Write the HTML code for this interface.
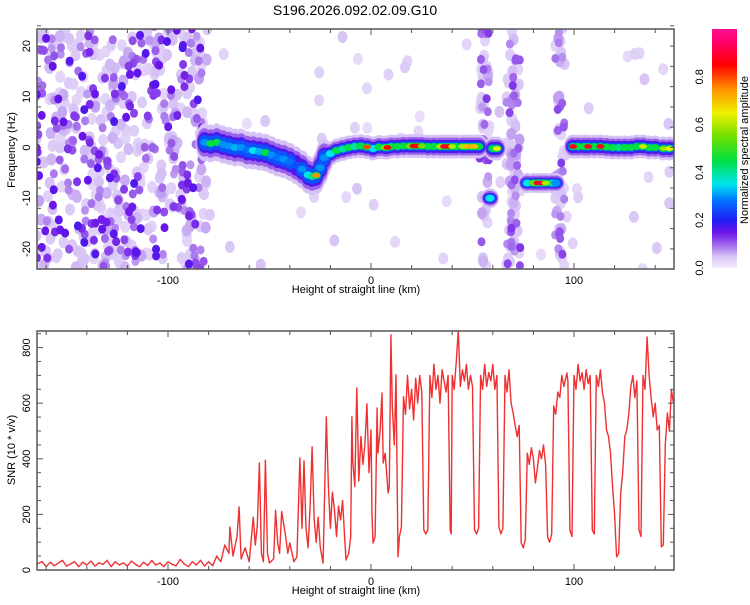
<!DOCTYPE html>
<html><head><meta charset="utf-8">
<style>
html,body{margin:0;padding:0;background:#fff;}
body{width:750px;height:600px;overflow:hidden;font-family:"Liberation Sans",sans-serif;}
svg text{font-family:"Liberation Sans",sans-serif;fill:#000;}
</style></head>
<body>
<svg id="chart" width="750" height="600" xmlns="http://www.w3.org/2000/svg">
  <text x="355" y="15" font-size="14" text-anchor="middle">S196.2026.092.02.09.G10</text>
  <defs>
    <clipPath id="clipTop"><rect x="37" y="29" width="637" height="240"/></clipPath>
    <clipPath id="clipBot"><rect x="37" y="331" width="637" height="239"/></clipPath>
    <linearGradient id="cbar" x1="0" y1="1" x2="0" y2="0">
      <stop offset="0" stop-color="#f6f0fd"/>
      <stop offset="0.05" stop-color="#d6c2f5"/>
      <stop offset="0.1" stop-color="#9c62ea"/>
      <stop offset="0.15" stop-color="#6a14e8"/>
      <stop offset="0.2" stop-color="#2020f4"/>
      <stop offset="0.28" stop-color="#0070ff"/>
      <stop offset="0.35" stop-color="#00e4ee"/>
      <stop offset="0.45" stop-color="#00e040"/>
      <stop offset="0.55" stop-color="#70e000"/>
      <stop offset="0.65" stop-color="#f0f000"/>
      <stop offset="0.75" stop-color="#ff9000"/>
      <stop offset="0.85" stop-color="#ff0000"/>
      <stop offset="0.95" stop-color="#ff0070"/>
      <stop offset="1" stop-color="#ff1090"/>
    </linearGradient>
  </defs>
  <g id="heat" clip-path="url(#clipTop)"></g>
  <g id="snr" clip-path="url(#clipBot)"></g>
  <g id="axes"></g>
  <rect x="712" y="29" width="25" height="239" fill="url(#cbar)"/>
  <text transform="translate(748,150) rotate(-90)" font-size="11" text-anchor="middle">Normalized spectral amplitude</text>
</svg>
<script>
// ---------- data ----------
const ridgeKm  = [-82,-79,-76,-73,-70,-67,-64,-61,-58,-55,-52,-49,-46,-43,-40,-37,-34,-31,-29,-27,-25,-23,-20,-17,-14,-11,-8,-5,-2,1,4,7,8,10,13,16,19,21,23,25,28,31,34,36,38,40,42,45,47,49,51,53,60,62,99.5,102,105,107,110,113,116,119,122,125,128,131,134,137,140,144,147];
const ridgeHz  = [1,0.8,1,0.6,0.3,0,0,-0.5,-0.6,-0.8,-1,-1.5,-2,-2.3,-2.8,-3.5,-4.3,-5.4,-5.7,-5.5,-4,-2,-1.2,-0.6,-0.3,0,0.2,0.3,0.1,-0.2,0.1,0,0,0.2,0.2,0.3,0.3,0.3,0.3,0.3,0.2,0.2,0.2,0.2,0.2,0.2,0.2,0.2,0.2,0.2,0.2,0.2,-0.2,-0.2,0.2,0.2,0.2,0.2,0.2,0.2,0.1,0,0,0,0,0.2,0.2,0,0,-0.2,-0.2];
const ridgeAmp = [0.3,0.45,0.45,0.3,0.3,0.32,0.3,0.28,0.35,0.32,0.45,0.3,0.28,0.3,0.28,0.25,0.3,0.35,0.4,0.75,0.3,0.3,0.35,0.5,0.4,0.45,0.4,0.45,0.8,0.35,0.45,0.6,0.85,0.45,0.45,0.45,0.55,0.85,0.85,0.55,0.45,0.45,0.6,0.88,0.85,0.6,0.45,0.6,0.7,0.72,0.7,0.45,0.5,0.65,0.88,0.45,0.5,0.88,0.45,0.88,0.45,0.45,0.42,0.45,0.45,0.5,0.62,0.45,0.45,0.58,0.65];
const spurKm   = [58.6,77,80,82,84,86,89,91];
const spurHz   = [-10,-7,-7,-7,-7,-7,-7,-7];
const spurAmp  = [0.35,0.35,0.55,0.88,0.9,0.6,0.4,0.3];
const stripeKm = [55,57,68,70,72,92,94];
const noiseStartKm = -165, noiseEndKm = -80;

const snrKm = [-165,-162,-160,-158,-156,-154,-152,-150,-148,-146,-144,-142,-140,-138,-136,-134,-132,-130,-128,-126,-124,-122,-120,-118,-116,-114,-112,-110,-108,-106,-104,-102,-100,-98,-96,-94,-92,-90,-88,-86,-84,-82,-80,-78,-76,-74,-72,-70,-69.5,-68,-66,-65,-64,-62,-60,-58,-57,-56,-55,-54,-53,-52,-51,-50,-48,-47,-46,-45,-44,-42,-41,-40,-38,-36.5,-35,-34,-33,-32,-31,-30,-29,-28,-27,-26,-25,-23.6,-22,-21,-20,-19,-18,-17,-16,-15,-14,-13,-12.3,-11,-10,-9.4,-9,-8,-7,-6,-5,-4,-3,-2,-1,0,0.5,1,2,3,3.4,4.5,5.4,6,7,8.4,9,9.8,10.5,11.5,12.3,13.3,14,15,16,17,18,19,20,21,22,23,24,25,26,27,28,29,30,31,32,33,34,35,36,37,38,39,39.5,40,41,42,43,44,45,46,47,48,49,50,51,52,53,54,55,56,57,58,59,60,61,62,63,64,65,66,67,68,69,70,71,72,73,74,75,76,77,78,79,80,81,82,83,84,85,86,87,88,89,90,91,92,93,94,95,96.5,97,98,99,100,101,102,103,104,105,106,107,108,109,110,111,112,113,114,115,116,117,118,119,120,121,122,123,124,125,126,127,128,129,130,131,132,133,134,135,136,137,138,139,140,141,142,143,144,145,146,147,148,149];
const snrVal = [20,30,12,28,15,25,35,14,22,30,12,28,18,32,14,26,20,35,12,30,18,26,14,32,20,12,28,16,34,18,25,12,30,20,15,38,22,12,30,18,35,14,30,15,50,30,90,60,155,50,120,227,40,80,30,190,90,160,385,60,30,395,60,25,40,215,100,60,210,120,60,97,30,47,403,150,392,150,80,230,443,180,100,190,80,25,551,300,150,280,215,120,230,180,250,120,36,60,120,551,396,300,655,320,480,380,450,598,350,504,200,97,120,583,421,500,637,385,420,277,300,846,587,450,702,47,120,155,623,560,700,580,650,540,690,600,700,640,144,130,144,700,620,740,650,700,600,720,680,640,700,144,130,700,650,750,864,660,720,680,740,650,700,660,144,130,150,700,650,740,660,710,680,740,650,700,155,130,150,700,640,720,600,565,520,480,520,97,80,110,420,380,440,400,313,370,430,400,450,380,119,100,130,590,560,640,620,700,660,709,680,144,120,700,650,740,680,710,650,720,670,700,144,130,700,660,720,640,600,504,480,420,299,200,47,60,277,350,480,504,560,659,700,620,680,144,120,700,650,838,700,620,551,600,504,520,83,90,450,565,500,648,600];

const xTicks = [-100,0,100];
const yTopTicks = [-20,-10,0,10,20];
const yBotTicks = [0,200,400,600,800];
const cbTicks = [0.0,0.2,0.4,0.6,0.8];

// ---------- scales ----------
const X0=37,X1=674,TY0=29,TY1=269,BY0=331,BY1=570;
const xS = km => 371 + km*2.03;
const yTop = hz => 147.5 - hz*5.07;
const yBot = v => 570 - v*0.278;
const NS='http://www.w3.org/2000/svg';
function el(tag, attrs, parent){const e=document.createElementNS(NS,tag);for(const k in attrs)e.setAttribute(k,attrs[k]);parent.appendChild(e);return e;}

const stops=[[0,[246,240,253]],[0.05,[214,194,245]],[0.1,[156,98,234]],[0.15,[106,20,232]],[0.2,[32,32,244]],[0.28,[0,112,255]],[0.35,[0,228,238]],[0.45,[0,224,64]],[0.55,[112,224,0]],[0.65,[240,240,0]],[0.75,[255,144,0]],[0.85,[255,0,0]],[0.95,[255,0,112]],[1,[255,16,144]]];
function cmap(a){a=Math.max(0,Math.min(1,a));for(let i=1;i<stops.length;i++){if(a<=stops[i][0]){const p0=stops[i-1][0],c0=stops[i-1][1],p1=stops[i][0],c1=stops[i][1];const t=(a-p0)/(p1-p0);return 'rgb('+c0.map((c,j)=>Math.round(c+(c1[j]-c)*t)).join(',')+')';}}return 'rgb(255,16,144)';}

// deterministic texture generator for the noise field
let seed=12345;function rnd(){seed=(seed*16807)%2147483647;return (seed-1)/2147483646;}

const heat=document.getElementById('heat');
const noise=[];
for(let i=0;i<560;i++){const km=noiseStartKm+rnd()*(noiseEndKm-noiseStartKm);const hz=-24+rnd()*48;const r=rnd();noise.push([km,hz,0.03+r*r*0.14]);}
for(let s=0;s<stripeKm.length;s++){for(let i=0;i<28;i++){const km=stripeKm[s]+(rnd()-0.5)*3;const hz=-24+rnd()*48;const r=rnd();noise.push([km,hz,0.03+r*r*0.1]);}}
for(let i=0;i<60;i++){const km=-80+rnd()*228;const hz=-24+rnd()*48;noise.push([km,hz,0.02+rnd()*0.03]);}
noise.sort((a,b)=>a[2]-b[2]);
noise.forEach(n=>{
  const big=n[2]<0.07;
  const c=el('ellipse',{cx:xS(n[0]),cy:yTop(n[1]),rx:big?5:4,ry:big?6:4.5,fill:cmap(n[2])},heat);
  
  
});
// ridge drawn in layered passes so halos sit under cores
const pts=[];
for(let i=0;i<ridgeKm.length;i++)pts.push([ridgeKm[i],ridgeHz[i],ridgeAmp[i],ridgeKm[i]<-20?19:12]);
for(let i=0;i<spurKm.length;i++)pts.push([spurKm[i],spurHz[i],spurAmp[i],10]);
const layers=[[0.05,9,1.0],[0.1,8,0.75],[0.17,7,0.55],[0.25,6,0.4]];
layers.forEach(L=>{pts.forEach(p=>{if(p[2]>L[0]){const e=el('ellipse',{cx:xS(p[0]),cy:yTop(p[1]),rx:L[1],ry:Math.max(p[3]*L[2],4.5),fill:cmap(L[0])},heat);}});});
pts.forEach(p=>{const c=el('ellipse',{cx:xS(p[0]),cy:yTop(p[1]),rx:4.5,ry:3.5,fill:cmap(Math.min(p[2],0.45))},heat);});
pts.forEach(p=>{if(p[2]>0.5){const k=el('ellipse',{cx:xS(p[0]),cy:yTop(p[1]),rx:4,ry:2.3,fill:cmap(p[2])},heat);}});

// SNR line
const snr=document.getElementById('snr');
let d='';for(let i=0;i<snrKm.length;i++)d+=(i?'L':'M')+xS(snrKm[i]).toFixed(1)+','+yBot(snrVal[i]).toFixed(1);
const line=el('path',{d:d,fill:'none',stroke:'#f03030','stroke-width':1.4,'stroke-linejoin':'round'},snr);



// axes
const ax=document.getElementById('axes');
function frame(y0,y1,name){const r=el('rect',{x:X0,y:y0,width:X1-X0,height:y1-y0,fill:'none',stroke:'#555','stroke-width':1.5},ax);}
frame(TY0,TY1,'top-plot-frame');frame(BY0,BY1,'bottom-plot-frame');
function tick(x1,y1,x2,y2){el('line',{x1:x1,y1:y1,x2:x2,y2:y2,stroke:'#555','stroke-width':1},ax);}
for(let km=-160;km<=140;km+=20){const x=xS(km);const big=km%100===0;const L=big?6:4;
  tick(x,TY1,x,TY1-L);tick(x,TY0,x,TY0+L);tick(x,BY1,x,BY1-L);tick(x,BY0,x,BY0+L);}
for(let hz=-24;hz<=24;hz+=4){const y=yTop(hz);tick(X0,y,X0+4,y);tick(X1,y,X1-4,y);}
for(let v=0;v<=850;v+=50){const y=yBot(v);const L=v%200===0?6:4;tick(X0,y,X0+L,y);tick(X1,y,X1-L,y);}
function txt(x,y,s,attrs,name){const t=el('text',Object.assign({x:x,y:y,'font-size':11},attrs||{}),ax);t.textContent=s;return t;}
xTicks.forEach(v=>{txt(xS(v),284,String(v),{'text-anchor':'middle'},'x-tick-label-top');txt(xS(v),585,String(v),{'text-anchor':'middle'},'x-tick-label-bottom');});
yTopTicks.forEach(v=>{const y=yTop(v);txt(0,0,String(v),{'text-anchor':'middle',transform:'translate(30,'+y+') rotate(-90)'},'y-tick-label-top');});
yBotTicks.forEach(v=>{const y=yBot(v);txt(0,0,String(v),{'text-anchor':'middle',transform:'translate(30,'+y+') rotate(-90)'},'y-tick-label-bottom');});
cbTicks.forEach(v=>{const y=268-v*239;txt(0,0,v.toFixed(1),{'text-anchor':'middle',transform:'translate(703,'+y+') rotate(-90)'},'colorbar-tick-label');});
txt(356,293,'Height of straight line (km)',{'text-anchor':'middle'},'x-axis-title-top');
txt(356,594,'Height of straight line (km)',{'text-anchor':'middle'},'x-axis-title-bottom');
txt(0,0,'Frequency (Hz)',{'text-anchor':'middle',transform:'translate(15,150) rotate(-90)'},'y-axis-title-top');
txt(0,0,'SNR (10 * v/v)',{'text-anchor':'middle',transform:'translate(15,450) rotate(-90)'},'y-axis-title-bottom');
</script>
</body></html>
